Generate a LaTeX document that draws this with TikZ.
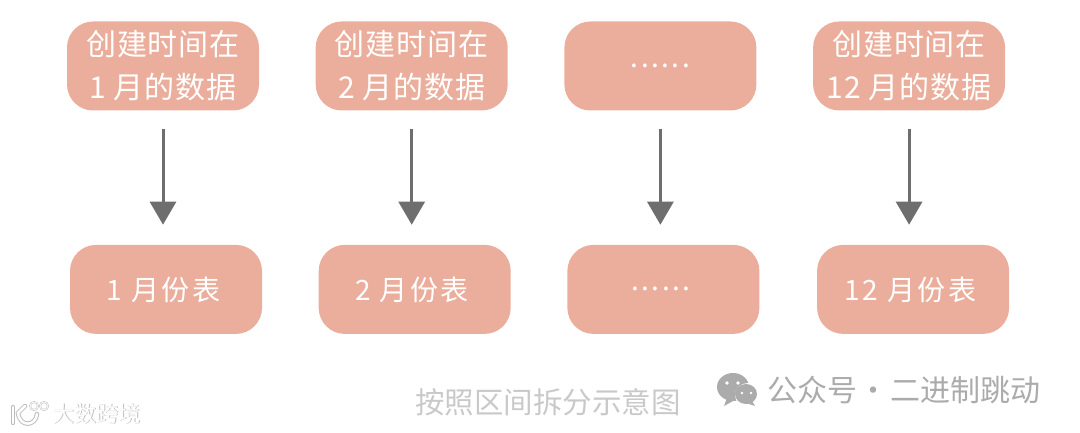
\documentclass[tikz,border=0pt]{standalone}
\usepackage{fontspec}
\usepackage{tikz}
\usetikzlibrary{arrows.meta,positioning}
\newfontfamily\cjk{Noto Sans CJK SC}
\newfontfamily\cjkwide[LetterSpace=9]{Noto Sans CJK SC}
\newfontfamily\cjkhead[LetterSpace=3]{Noto Sans CJK SC}
\definecolor{nbox}{HTML}{EBAE9C}
\definecolor{narrow}{HTML}{6E6E6E}
\definecolor{ncaption}{HTML}{C9C9C9}
\definecolor{nmark}{HTML}{ABABAB}
\definecolor{nhalo}{HTML}{BDBDBD}
\tikzset{
  srcbox/.style={fill=nbox, rounded corners=26pt, minimum width=192pt, minimum height=89pt,
                 align=center, inner sep=0pt, text=white,
                 font=\cjkhead\fontsize{30}{43}\selectfont},
  tabbox/.style={srcbox, font=\cjkwide\fontsize{28}{43}\selectfont,
                 execute at begin node=\hspace*{-5pt}},
  arr/.style={-{Triangle[width=26pt, length=23pt]}, draw=narrow, line width=3pt,
              shorten <=18pt, shorten >=20pt},
  captext/.style={font=\cjk\fontsize{29.5}{30}\selectfont, text=ncaption, inner sep=0pt},
  marktext/.style={font=\cjk\fontsize{30}{30}\selectfont, text=nmark, inner sep=0pt},
  logotext/.style={font=\cjk\fontsize{22}{22}\selectfont, inner sep=0pt},
}
\begin{document}
\begin{tikzpicture}[x=1pt, y=-1pt, node distance=134pt and 56.3pt]
  \useasboundingbox (0,0) rectangle (1080,433);
  % Source row
  \node[srcbox] (src1) at (163,66) {创建时间在\\1 月的数据};
  \node[srcbox, right=of src1] (src2) {创建时间在\\2 月的数据};
  \node[srcbox, right=of src2, font=\cjkwide\fontsize{28}{43}\selectfont] (src3) {......};
  \node[srcbox, right=of src3] (src4) {创建时间在\\12 月的数据};
  % Table row
  \node[tabbox, below=of src1, xshift=3pt] (tab1) {1 月份表};
  \node[tabbox, below=of src2, xshift=3pt] (tab2) {2 月份表};
  \node[tabbox, below=of src3, xshift=3pt] (tab3) {......};
  \node[tabbox, below=of src4, xshift=4pt] (tab4) {12 月份表};

  \draw[arr] (src1.south) -- (src1.south |- tab1.north);
  \draw[arr] (src2.south) -- (src2.south |- tab2.north);
  \draw[arr] (src3.south) -- (src3.south |- tab3.north);
  \draw[arr] (src4.south) -- (src4.south |- tab4.north);

  \node[captext] (cap) at (548,402) {按照区间拆分示意图};

  % wechat mark
  \fill[nmark] (733,387) ellipse [x radius=16pt, y radius=14pt];
  \fill[nmark] (727,398) -- (724,406) -- (735,400) -- cycle;
  \fill[white] (748,395) ellipse [x radius=13pt, y radius=12pt];
  \fill[nmark] (746,394) ellipse [x radius=11pt, y radius=10pt];
  \fill[nmark] (752,401) -- (755,406) -- (746,403) -- cycle;
  \fill[white] (727,383) circle (1.8pt) (738,383) circle (1.8pt);
  \fill[white] (742,393) circle (1.4pt) (751,393) circle (1.4pt);
  \node[marktext, anchor=west] (acct) at (767,390) {公众号\kern1.5pt·\kern1.5pt二进制跳动};

  % bottom left logo
  \begin{scope}[nhalo, line width=4.5pt, line cap=round]
    \draw (13,407) -- (13,423);
    \draw (25,406) -- (18,413) .. controls (20,428) and (36,426) .. (37,414);
    \draw[line width=1.8pt] (34,406) circle (4pt) (44,406) circle (4pt);
  \end{scope}
  \begin{scope}[white, line width=2.5pt, line cap=round]
    \draw (13,407) -- (13,423);
    \draw (25,406) -- (18,413) .. controls (20,428) and (36,426) .. (37,414);
    \draw[line width=0.8pt] (34,406) circle (4pt) (44,406) circle (4pt);
  \end{scope}
  \node[logotext, text=nhalo, anchor=west] (brandhalo) at (52.8,414.6) {大数跨境};
  \node[logotext, text=white, anchor=west] (brand) at (52,414) {大数跨境};
\end{tikzpicture}
\end{document}
